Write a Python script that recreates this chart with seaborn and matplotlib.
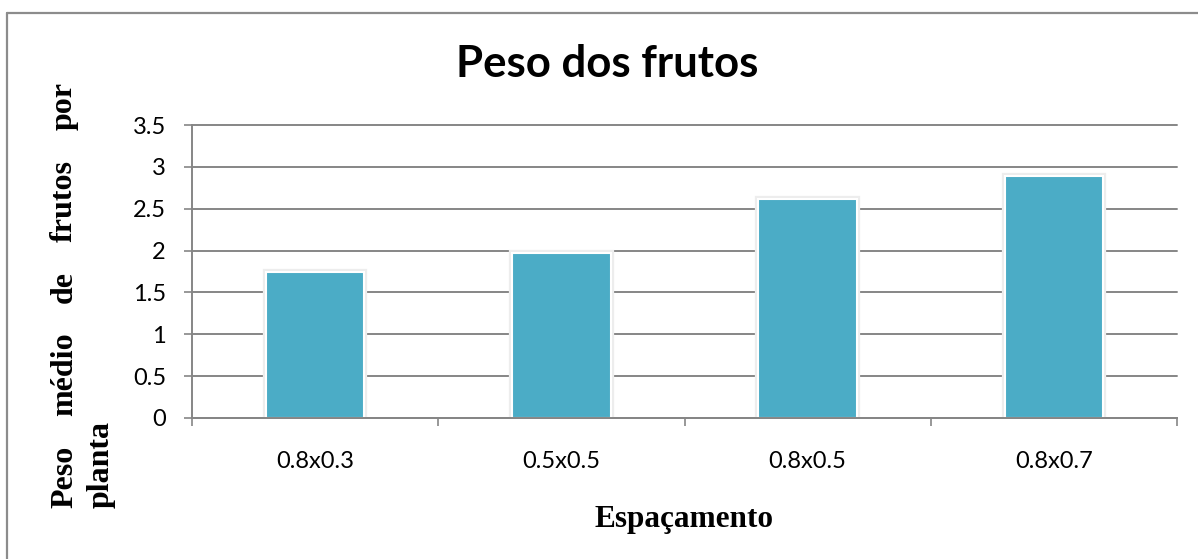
import matplotlib
matplotlib.use('Agg')
import matplotlib.pyplot as plt
import matplotlib.patheffects as pe
from matplotlib.lines import Line2D
from matplotlib.ticker import FixedLocator
import seaborn as sns
import pandas as pd

# Data
spacings = ['0.8x0.3', '0.5x0.5', '0.8x0.5', '0.8x0.7']
peso = [1.74, 1.97, 2.62, 2.89]
y_ticks = [0, 0.5, 1, 1.5, 2, 2.5, 3, 3.5]
y_tick_labels = ['0', '0.5', '1', '1.5', '2', '2.5', '3', '3.5']

title = 'Peso dos frutos'
x_label = 'Espaçamento'
y_label = 'Peso médio de frutos por planta'

df = pd.DataFrame({'Espacamento': spacings, 'Peso': peso})

sns.set_style('white')
plt.rcParams['font.family'] = ['Lato', 'DejaVu Sans']
plt.rcParams['text.color'] = 'black'

W, H = 1198, 559
fig = plt.figure(figsize=(W / 100, H / 100), dpi=100)
ax = fig.add_axes([192 / W, 1 - 418 / H, (1177 - 192) / W, (418 - 125) / H])

grid_color = '#868686'
bar_color = '#4BACC6'

sns.barplot(x='Espacamento', y='Peso', data=df, color=bar_color, width=0.4,
            edgecolor='white', linewidth=1.5, saturation=1, ax=ax, zorder=3)
# soft halo around each bar, like the shadow in the reference
for p in ax.patches:
    p.set_path_effects([pe.Stroke(linewidth=4.5, foreground='#ededed'), pe.Normal()])

ax.set_xlim(-0.5, len(spacings) - 0.5)
ax.set_ylim(0, 3.5)
ax.set_yticks(y_ticks)
ax.set_yticklabels(y_tick_labels)
ax.set_xlabel('')
ax.set_ylabel('')

# gridlines
ax.yaxis.grid(True, color=grid_color, linewidth=1.4)
ax.set_axisbelow(True)
for gl in ax.get_ygridlines():
    gl.set_clip_on(False)

for s in ['top', 'right']:
    ax.spines[s].set_visible(False)
for s in ['left', 'bottom']:
    ax.spines[s].set_color(grid_color)
    ax.spines[s].set_linewidth(1.4)
    ax.spines[s].set_zorder(4)

ax.tick_params(axis='y', which='major', length=5.8, width=1.2, color=grid_color,
               pad=13, labelsize=17, labelcolor='black', left=True)
ax.tick_params(axis='x', which='major', length=0, pad=24, labelsize=17, labelcolor='black')
ax.xaxis.set_minor_locator(FixedLocator([i - 0.5 for i in range(len(spacings) + 1)]))
ax.tick_params(axis='x', which='minor', length=5.8, width=1.2, color=grid_color, bottom=True)

# title
fig.text(607 / W, 1 - 77 / H, title, ha='center', va='baseline', color='black',
         fontsize=31.5, fontweight='bold', family=['Lato', 'DejaVu Sans'])

# x axis label
serif = ['Liberation Serif', 'DejaVu Serif']
fig.text(684 / W, 1 - 527 / H, x_label, ha='center', va='baseline', color='black',
         fontsize=22.5, fontweight='bold', family=serif)

# y axis label, justified over two lines like in the reference
words = y_label.split()
line1, line2 = words[:-1], words[-1:]
fig.canvas.draw()
renderer = fig.canvas.get_renderer()
texts = []
for w in line1:
    t = fig.text(72 / W, 0, w, rotation=90, rotation_mode='anchor', ha='left',
                 va='baseline', fontsize=23, fontweight='bold', family=serif, color='black')
    texts.append(t)
lengths = [t.get_window_extent(renderer).height for t in texts]
y0, y1 = H - 508, H - 82
gap = (y1 - y0 - sum(lengths)) / (len(texts) - 1)
pos = y0
for t, L in zip(texts, lengths):
    t.set_y(pos / H)
    pos += L + gap
for w in line2:
    fig.text(109 / W, y0 / H, w, rotation=90, rotation_mode='anchor', ha='left',
             va='baseline', fontsize=23, fontweight='bold', family=serif, color='black')

# chart area border (only top and left edges visible in the reference)
fig.add_artist(Line2D([7 / W, 1.01], [1 - 13 / H, 1 - 13 / H], color='#8c8c8c', linewidth=1.6))
fig.add_artist(Line2D([7 / W, 7 / W], [1 - 13 / H, -0.01], color='#8c8c8c', linewidth=1.6))

fig.savefig('out.png', dpi=100)
